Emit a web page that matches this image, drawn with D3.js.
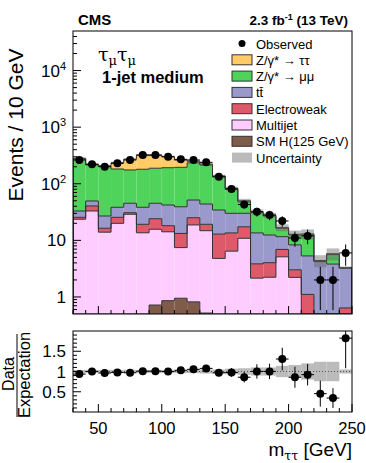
<!DOCTYPE html>
<html>
<head>
<meta charset="utf-8">
<script src="https://cdn.jsdelivr.net/npm/d3@7/dist/d3.min.js"></script>
<style>
  body { margin: 0; background: #fff; }
  text { font-family: "Liberation Sans", Arial, sans-serif; fill: #000; }
</style>
</head>
<body>
<svg width="366" height="463"></svg>
<script>
// bin lower edges (10 GeV bins)
var binLow = [30, 40, 50, 60, 70, 80, 90, 100, 110, 120, 130, 140, 150, 160, 170, 180, 190, 200, 210, 220, 230, 240];

var observed = [263, 221, 200, 230, 263, 322, 322, 301, 270, 263, 239, 133, 81, 43, 32, 28, 22, 11, 12, 2, 2, 6];

// backgrounds, bottom to top of the stack
var higgs    = [0.02, 0.03, 0.05, 0.1, 0.2, 0.4, 0.72, 0.86, 0.95, 0.82, 0.52, 0.3, 0.15, 0.08, 0.05, 0.03, 0.02, 0.02, 0.01, 0.01, 0.01, 0.01];
var multijet = [23.6, 33, 13.9, 19.9, 28.7, 13.2, 15.0, 13.3, 6.5, 17.9, 14.3, 4.5, 6.3, 10.8, 2.1, 2.2, 5.1, 2.2, 0.3, 0.1, 0.1, 0.2];
var ewk      = [1.9, 7.5, 2.4, 5.5, 1.9, 5.6, 8.4, 4.0, 5.8, 6.4, 4.4, 8.1, 7.1, 6.5, 1.7, 1.8, 1.8, 0.8, 0.8, 0.2, 0.2, 0.43];
var ttbar    = [7.5, 9.1, 10.6, 12.9, 14.4, 19.2, 21.1, 24.0, 26.0, 26.5, 24.7, 21.5, 16.5, 12.7, 9.7, 8.4, 4.7, 5.3, 4.2, 3.9, 3.5, 2.6];
var zmm      = [240, 166, 176, 144, 130, 142, 143, 150, 156, 183, 171, 99, 50, 18, 17.4, 14.5, 4.7, 4.2, 7.2, 0.1, 1.8, 0.0];
var ztt      = [8, 5, 5, 53, 96, 139, 131, 109, 67, 15, 7, 4, 3, 2, 1, 1, 0.5, 0.3, 0.5, 0.1, 0.2, 0.05];

// relative uncertainty on the total expectation
var relUnc = [0.04, 0.04, 0.04, 0.04, 0.04, 0.04, 0.04, 0.04, 0.04, 0.04, 0.05, 0.05, 0.07, 0.08, 0.1, 0.1, 0.14, 0.16, 0.2, 0.24, 0.24, 0.05];

var yTicksMain = [1, 10, 100, 1000, 10000];
var xTicks = [50, 100, 150, 200, 250];
var yTicksRatio = [0.5, 1, 1.5];

var svg = d3.select("svg");

var x = d3.scaleLinear().domain([30, 250]).range([73, 352]);
var y = d3.scaleLog().domain([0.5, 5e4]).range([314, 31]).clamp(true);
var yr = d3.scaleLinear().domain([0, 2]).range([412, 331]).clamp(true);

var keys = ["higgs", "multijet", "ewk", "ttbar", "zmm", "ztt"];
var colors = {
  higgs: "#7f5b4a",
  multijet: "#ffccff",
  ewk: "#de5a6a",
  ttbar: "#9999cc",
  zmm: "#4fd35a",
  ztt: "#ffcc66"
};

var table = binLow.map(function(lo, i) {
  return {
    lo: lo, higgs: higgs[i], multijet: multijet[i], ewk: ewk[i],
    ttbar: ttbar[i], zmm: zmm[i], ztt: ztt[i]
  };
});
var series = d3.stack().keys(keys)(table);
var total = table.map(function(d) {
  return keys.reduce(function(s, k) { return s + d[k]; }, 0);
});

svg.append("defs").append("clipPath").attr("id", "clipMain")
  .append("rect").attr("x", 73).attr("y", 31).attr("width", 279).attr("height", 283);
svg.append("defs").append("clipPath").attr("id", "clipRatio")
  .append("rect").attr("x", 73).attr("y", 331).attr("width", 279).attr("height", 81);

var main = svg.append("g").attr("clip-path", "url(#clipMain)");

// stacked fills
series.forEach(function(s) {
  main.append("g").selectAll("rect")
    .data(s)
    .enter().append("rect")
    .attr("x", function(d) { return x(d.data.lo); })
    .attr("width", function(d) { return x(d.data.lo + 10) - x(d.data.lo); })
    .attr("y", function(d) { return y(Math.max(d[1], 0.01)); })
    .attr("height", function(d) { return Math.max(0, y(Math.max(d[0], 0.01)) - y(Math.max(d[1], 0.01))); })
    .style("fill", colors[s.key]);
});

// outlines of each stacked histogram
var stepLine = d3.line()
  .x(function(d) { return x(d[0]); })
  .y(function(d) { return y(Math.max(d[1], 0.01)); })
  .curve(d3.curveStepAfter);

series.forEach(function(s) {
  var pts = s.map(function(d) { return [d.data.lo, d[1]]; });
  pts.unshift([30, 0.01]);
  pts.push([250, s[s.length - 1][1]]);
  pts.push([250, 0.01]);
  main.append("path")
    .attr("d", stepLine(pts))
    .style("fill", "none")
    .style("stroke", "#333")
    .style("stroke-width", 1);
});

// uncertainty band
main.append("g").selectAll("rect")
  .data(binLow)
  .enter().append("rect")
  .attr("x", function(d) { return x(d); })
  .attr("width", function(d) { return x(d + 10) - x(d); })
  .attr("y", function(d, i) { return y(total[i] * (1 + relUnc[i])); })
  .attr("height", function(d, i) { return y(total[i] * (1 - relUnc[i])) - y(total[i] * (1 + relUnc[i])); })
  .style("fill", "#666")
  .style("fill-opacity", 0.45);

// observed points
var pts = main.append("g").selectAll("g")
  .data(binLow)
  .enter().append("g");
pts.append("line")
  .attr("x1", function(d) { return x(d); })
  .attr("x2", function(d) { return x(d + 10); })
  .attr("y1", function(d, i) { return y(observed[i]); })
  .attr("y2", function(d, i) { return y(observed[i]); })
  .style("stroke", "#000");
pts.append("line")
  .attr("x1", function(d) { return x(d + 5); })
  .attr("x2", function(d) { return x(d + 5); })
  .attr("y1", function(d, i) { return y(observed[i] + Math.sqrt(observed[i])); })
  .attr("y2", function(d, i) { return y(Math.max(observed[i] - Math.sqrt(observed[i]), 0.01)); })
  .style("stroke", "#000");
pts.append("circle")
  .attr("cx", function(d) { return x(d + 5); })
  .attr("cy", function(d, i) { return y(observed[i]); })
  .attr("r", 4)
  .style("fill", "#000");

// main frame
svg.append("rect").attr("x", 73).attr("y", 31).attr("width", 279).attr("height", 283)
  .style("fill", "none").style("stroke", "#000");

// main y ticks
var yMinor = [];
yTicksMain.concat([0.1]).forEach(function(p) {
  for (var m = 2; m <= 9; m++) {
    var v = p * m;
    if (v > 0.5 && v < 5e4) yMinor.push(v);
  }
});
svg.append("g").selectAll("line").data(yMinor).enter().append("line")
  .attr("x1", 73).attr("x2", 77)
  .attr("y1", function(d) { return y(d); }).attr("y2", function(d) { return y(d); })
  .style("stroke", "#000");
svg.append("g").selectAll("line").data(yTicksMain).enter().append("line")
  .attr("x1", 73).attr("x2", 81)
  .attr("y1", function(d) { return y(d); }).attr("y2", function(d) { return y(d); })
  .style("stroke", "#000");

var yLab = svg.append("g").selectAll("text").data(yTicksMain).enter().append("text")
  .attr("x", 66)
  .attr("y", function(d) { return y(d) + 6; })
  .attr("text-anchor", "end")
  .style("font-size", "17px");
yLab.each(function(d) {
  var t = d3.select(this);
  var e = Math.round(Math.log10(d));
  if (e === 0) t.text("1");
  else if (e === 1) t.text("10");
  else {
    t.append("tspan").text("10");
    t.append("tspan").attr("dy", -7).style("font-size", "11px").text(e);
  }
});

// x ticks on both pads
var xMinor = binLow.concat([250]).filter(function(v) { return xTicks.indexOf(v) < 0; });
[314, 412].forEach(function(base) {
  svg.append("g").selectAll("line").data(xMinor).enter().append("line")
    .attr("x1", function(d) { return x(d); }).attr("x2", function(d) { return x(d); })
    .attr("y1", base).attr("y2", base - 4)
    .style("stroke", "#000");
  svg.append("g").selectAll("line").data(xTicks).enter().append("line")
    .attr("x1", function(d) { return x(d); }).attr("x2", function(d) { return x(d); })
    .attr("y1", base).attr("y2", base - 8)
    .style("stroke", "#000");
});

// ratio pad
var ratio = svg.append("g").attr("clip-path", "url(#clipRatio)");
ratio.append("g").selectAll("rect")
  .data(binLow)
  .enter().append("rect")
  .attr("x", function(d) { return x(d); })
  .attr("width", function(d) { return x(d + 10) - x(d); })
  .attr("y", function(d, i) { return yr(1 + relUnc[i]); })
  .attr("height", function(d, i) { return yr(1 - relUnc[i]) - yr(1 + relUnc[i]); })
  .style("fill", "#bbb");
ratio.append("line")
  .attr("x1", 73).attr("x2", 352).attr("y1", yr(1)).attr("y2", yr(1))
  .style("stroke", "#555").style("stroke-dasharray", "1,2");

var rp = ratio.append("g").selectAll("g")
  .data(binLow)
  .enter().append("g");
rp.append("line")
  .attr("x1", function(d) { return x(d); })
  .attr("x2", function(d) { return x(d + 10); })
  .attr("y1", function(d, i) { return yr(observed[i] / total[i]); })
  .attr("y2", function(d, i) { return yr(observed[i] / total[i]); })
  .style("stroke", "#000");
rp.append("line")
  .attr("x1", function(d) { return x(d + 5); })
  .attr("x2", function(d) { return x(d + 5); })
  .attr("y1", function(d, i) { return yr((observed[i] + Math.sqrt(observed[i])) / total[i]); })
  .attr("y2", function(d, i) { return yr((observed[i] - Math.sqrt(observed[i])) / total[i]); })
  .style("stroke", "#000");
rp.append("circle")
  .attr("cx", function(d) { return x(d + 5); })
  .attr("cy", function(d, i) { return yr(observed[i] / total[i]); })
  .attr("r", 4)
  .style("fill", "#000");

svg.append("rect").attr("x", 73).attr("y", 331).attr("width", 279).attr("height", 81)
  .style("fill", "none").style("stroke", "#000");

var yrMinor = [0.1, 0.2, 0.3, 0.4, 0.6, 0.7, 0.8, 0.9, 1.1, 1.2, 1.3, 1.4, 1.6, 1.7, 1.8, 1.9];
svg.append("g").selectAll("line").data(yrMinor).enter().append("line")
  .attr("x1", 73).attr("x2", 77)
  .attr("y1", function(d) { return yr(d); }).attr("y2", function(d) { return yr(d); })
  .style("stroke", "#000");
svg.append("g").selectAll("line").data(yTicksRatio).enter().append("line")
  .attr("x1", 73).attr("x2", 81)
  .attr("y1", function(d) { return yr(d); }).attr("y2", function(d) { return yr(d); })
  .style("stroke", "#000");
svg.append("g").selectAll("text").data(yTicksRatio).enter().append("text")
  .attr("x", 66)
  .attr("y", function(d) { return yr(d) + 6; })
  .attr("text-anchor", "end")
  .style("font-size", "17px")
  .text(function(d) { return d; });

svg.append("g").selectAll("text").data(xTicks).enter().append("text")
  .attr("x", function(d) { return x(d); })
  .attr("y", 434)
  .attr("text-anchor", "middle")
  .style("font-size", "16.5px")
  .text(function(d) { return d; });

// axis titles
svg.append("text")
  .attr("transform", "translate(23,125) rotate(-90)")
  .attr("text-anchor", "middle")
  .style("font-size", "21px")
  .text("Events / 10 GeV");

var xt = svg.append("text")
  .attr("x", 352).attr("y", 456)
  .attr("text-anchor", "end")
  .style("font-size", "19px");
xt.append("tspan").text("m");
xt.append("tspan").attr("dy", 4).style("font-size", "12.5px")
  .style("font-family", "'DejaVu Serif', serif").text("ττ");
xt.append("tspan").attr("dy", -4).text(" [GeV]");

svg.append("text")
  .attr("transform", "translate(14,374) rotate(-90)")
  .attr("text-anchor", "middle")
  .style("font-size", "16px")
  .text("Data");
svg.append("line")
  .attr("x1", 17).attr("x2", 17).attr("y1", 334).attr("y2", 417)
  .style("stroke", "#000");
svg.append("text")
  .attr("transform", "translate(30,375) rotate(-90)")
  .attr("text-anchor", "middle")
  .style("font-size", "16.5px")
  .text("Expectation");

// header
svg.append("text").attr("x", 78).attr("y", 25)
  .style("font-size", "15px").style("font-weight", "bold").text("CMS");
var lumi = svg.append("text").attr("x", 348).attr("y", 25)
  .attr("text-anchor", "end")
  .style("font-size", "13.5px").style("font-weight", "bold");
lumi.append("tspan").text("2.3 fb");
lumi.append("tspan").attr("dy", -5).style("font-size", "9px").text("-1");
lumi.append("tspan").attr("dy", 5).text(" (13 TeV)");

var chan = svg.append("text").attr("x", 98).attr("y", 61)
  .style("font-family", "'DejaVu Serif', serif").style("font-size", "19px");
chan.append("tspan").text("τ");
chan.append("tspan").attr("dy", 4).style("font-size", "13px").text("μ");
chan.append("tspan").attr("dy", -4).text("τ");
chan.append("tspan").attr("dy", 4).style("font-size", "13px").text("μ");

svg.append("text").attr("x", 102).attr("y", 83)
  .style("font-size", "16.5px").style("font-weight", "bold").text("1-jet medium");

// legend
var legendRows = [
  { label: "Observed", type: "point" },
  { label: "Z/γ* → ττ", type: "box", key: "ztt" },
  { label: "Z/γ* → μμ", type: "box", key: "zmm" },
  { label: "tt\u0304", type: "box", key: "ttbar" },
  { label: "Electroweak", type: "box", key: "ewk" },
  { label: "Multijet", type: "box", key: "multijet" },
  { label: "SM H(125 GeV)", type: "box", key: "higgs" },
  { label: "Uncertainty", type: "unc" }
];
var leg = svg.append("g").selectAll("g")
  .data(legendRows)
  .enter().append("g")
  .attr("transform", function(d, i) { return "translate(232," + (43.5 + i * 16.3) + ")"; });
leg.each(function(d) {
  var g = d3.select(this);
  if (d.type === "point") {
    g.append("circle").attr("cx", 10).attr("cy", 0).attr("r", 3.5).style("fill", "#000");
  } else if (d.type === "box") {
    g.append("rect").attr("x", 0).attr("y", -5).attr("width", 20).attr("height", 10)
      .style("fill", colors[d.key]).style("stroke", "#333");
  } else {
    g.append("rect").attr("x", 0).attr("y", -5).attr("width", 20).attr("height", 10)
      .style("fill", "#bbb");
  }
  g.append("text").attr("x", 24).attr("y", 5)
    .style("font-size", "13px")
    .text(d.label);
});
</script>
</body>
</html>
